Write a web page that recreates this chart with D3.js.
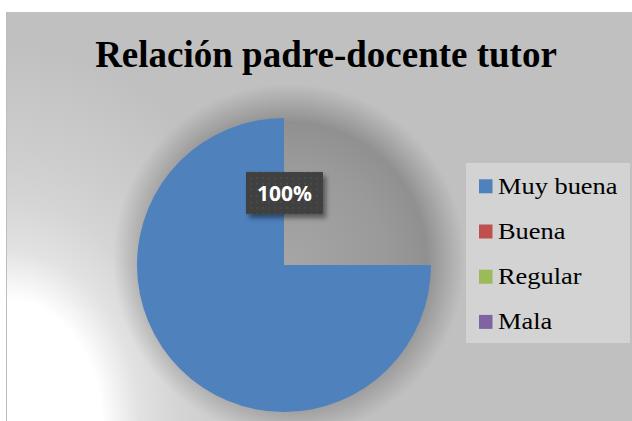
<!DOCTYPE html>
<html>
<head>
<meta charset="utf-8">
<script src="https://cdn.jsdelivr.net/npm/d3@7/dist/d3.min.js"></script>
<style>
  html, body { margin: 0; padding: 0; background: #ffffff; }
  svg { display: block; }
</style>
</head>
<body>
<script>
// Chart content
const title = "Relación padre-docente tutor";
const categories = ["Muy buena", "Buena", "Regular", "Mala"];
const values = [100, 0, 0, 0];
const percentLabels = ["100%"];
const colors = ["#4f81bd", "#c0504d", "#9bbb59", "#8064a2"];

const W = 632, H = 421;
const svg = d3.select("body").append("svg").attr("width", W).attr("height", H);
const defs = svg.append("defs");

// Chart area background: grey with a soft white glow from the lower-left corner
const bg = defs.append("radialGradient")
  .attr("id", "bgGlow")
  .attr("gradientUnits", "userSpaceOnUse")
  .attr("cx", 0).attr("cy", 0).attr("r", 1)
  .attr("gradientTransform", "translate(6,425) scale(290,380)");
[[0, "#ffffff"], [0.33, "#ffffff"], [0.46, "#e2e2e2"], [0.59, "#d5d5d5"],
 [0.72, "#cdcdcd"], [0.83, "#c8c8c8"], [1, "#c0c0c0"]]
  .forEach(([o, c]) => bg.append("stop").attr("offset", o).attr("stop-color", c));

svg.append("rect").attr("x", 6).attr("y", 12).attr("width", W - 6).attr("height", H - 12)
  .attr("fill", "#c0c0c0");
svg.append("rect").attr("x", 6).attr("y", 12).attr("width", W - 6).attr("height", H - 12)
  .attr("fill", "url(#bgGlow)");
svg.append("line").attr("x1", 6.5).attr("x2", 6.5).attr("y1", 12).attr("y2", H)
  .attr("stroke", "#bdbdbd").attr("stroke-width", 1);

// Title
svg.append("text")
  .attr("x", 326).attr("y", 67)
  .attr("text-anchor", "middle")
  .attr("font-family", "'Liberation Serif', 'Times New Roman', serif")
  .attr("font-weight", "bold")
  .attr("font-size", 37)
  .attr("fill", "#000")
  .text(title);

// Pie
const cx = 284, cy = 265, R = 147;
const g = svg.append("g").attr("transform", `translate(${cx},${cy})`);

// soft shadow beneath the pie, nudged up and to the right
const sh = defs.append("radialGradient").attr("id", "pieShadow");
sh.append("stop").attr("offset", 0).attr("stop-color", "#000").attr("stop-opacity", 0.14);
sh.append("stop").attr("offset", 0.55).attr("stop-color", "#000").attr("stop-opacity", 0.2);
sh.append("stop").attr("offset", 0.78).attr("stop-color", "#000").attr("stop-opacity", 0.25);
sh.append("stop").attr("offset", 1).attr("stop-color", "#000").attr("stop-opacity", 0);
g.append("circle").attr("cx", 5).attr("cy", -5).attr("r", R * 1.2).attr("fill", "url(#pieShadow)");

const pie = d3.pie().sort(null)
  .startAngle(Math.PI / 2).endAngle(2 * Math.PI)
  .value(d => d);
const arc = d3.arc().innerRadius(0).outerRadius(R);
const color = d3.scaleOrdinal().domain(categories).range(colors);

g.selectAll("path.slice")
  .data(pie(values).filter(d => d.value > 0))
  .join("path")
  .attr("class", "slice")
  .attr("d", arc)
  .attr("fill", d => color(categories[d.index]));

// Data label
const lblShadow = defs.append("filter").attr("id", "lblShadow")
  .attr("x", "-30%").attr("y", "-30%").attr("width", "160%").attr("height", "180%");
lblShadow.append("feDropShadow").attr("dx", 3).attr("dy", 4).attr("stdDeviation", 2.5)
  .attr("flood-color", "#000").attr("flood-opacity", 0.45);

const dots = defs.append("pattern").attr("id", "dots")
  .attr("patternUnits", "userSpaceOnUse").attr("width", 6).attr("height", 6);
dots.append("rect").attr("width", 6).attr("height", 6).attr("fill", "#404040");
dots.append("circle").attr("cx", 3).attr("cy", 3).attr("r", 1).attr("fill", "#4c4c4c");

const lw = 77, lh = 42, ly = -R * 0.49;
const lbl = g.append("g").attr("transform", `translate(0,${ly})`);
lbl.append("rect").attr("x", -lw / 2 + 0.5).attr("y", -lh / 2).attr("width", lw).attr("height", lh)
  .attr("fill", "url(#dots)").attr("filter", "url(#lblShadow)");
lbl.append("text")
  .attr("x", 0.5).attr("y", 8)
  .attr("text-anchor", "middle")
  .attr("font-family", "'Open Sans', 'Liberation Sans', sans-serif")
  .attr("font-weight", "bold")
  .attr("font-size", 21)
  .attr("fill", "#ffffff")
  .text(percentLabels[0]);

// Legend
const legend = svg.append("g");
legend.append("rect").attr("x", 466).attr("y", 163).attr("width", 164).attr("height", 180)
  .attr("fill", "#d3d3d3");
const rows = legend.selectAll("g.item").data(categories).join("g")
  .attr("class", "item")
  .attr("transform", (d, i) => `translate(479,${179.3 + i * 45.2})`);
rows.append("rect").attr("width", 13.5).attr("height", 14).attr("fill", d => color(d));
rows.append("text")
  .attr("transform", "translate(19,14.5) scale(1.1,1)")
  .attr("font-family", "'Liberation Serif', 'Times New Roman', serif")
  .attr("font-size", 24)
  .attr("fill", "#000")
  .text(d => d);
</script>
</body>
</html>
